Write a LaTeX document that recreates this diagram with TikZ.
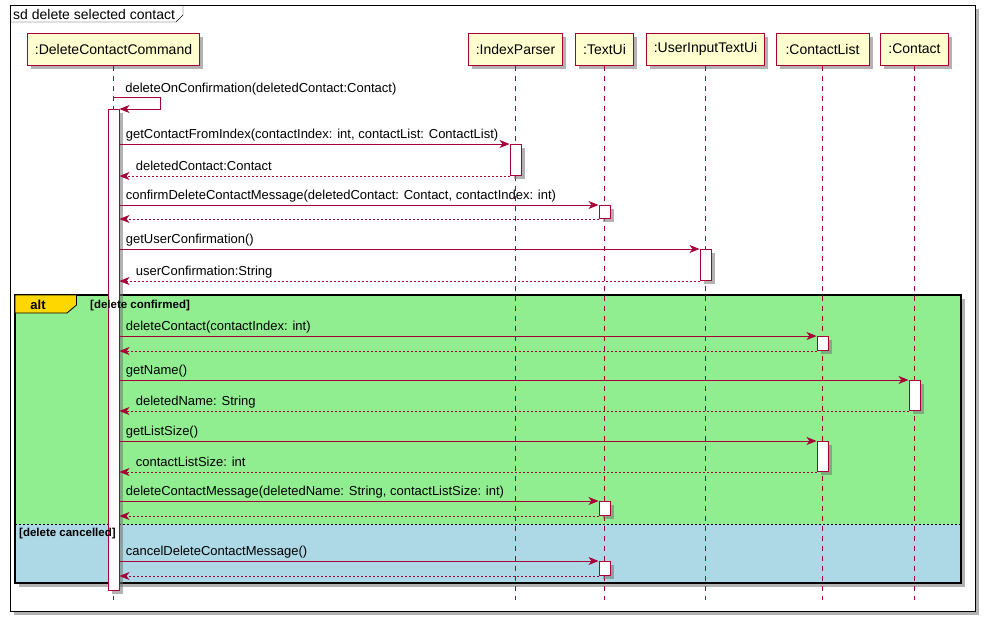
\documentclass[tikz,border=0pt]{standalone}
\usepackage{fontspec}
\setmainfont{Liberation Sans}
\usetikzlibrary{arrows.meta, positioning, calc, shadows}

\definecolor{umlred}{HTML}{A80036}
\definecolor{umlyellow}{HTML}{FEFECE}
\definecolor{altgreen}{HTML}{90EE90}
\definecolor{altblue}{HTML}{ADD8E6}
\definecolor{tabgold}{HTML}{FFD700}

\tikzset{
    shd/.style={drop shadow={shadow xshift=3.5pt, shadow yshift=-3.5pt, fill=black!55, opacity=0.55}},
    participant/.style={draw=umlred, fill=umlyellow, line width=1pt, minimum height=32pt, inner sep=0pt, font=\fontsize{14}{16}\selectfont, shd},
    lifeline/.style={umlred, line width=0.8pt, dash pattern=on 5pt off 5pt},
    act/.style={draw=umlred, fill=white, line width=1pt, minimum width=11pt, inner sep=0pt, anchor=north, shd},
    msg/.style={umlred, line width=0.8pt, -{Stealth[length=10pt, width=8pt, inset=3pt]}},
    ret/.style={msg, dash pattern=on 2pt off 2pt},
    lbl/.style={text=black, font=\fontsize{13}{15}\selectfont, inner sep=0pt, anchor=base west},
    guard/.style={font=\fontsize{11.5}{13}\selectfont\bfseries, inner sep=0pt, anchor=base west},
}

\begin{document}
\begin{tikzpicture}[x=1pt, y=-1pt]
    \useasboundingbox (0,0) rectangle (985,622);

    % outer frame
    \draw[fill=white, shd] (10,5) rectangle (975,611);
    \draw (10,22) -- (176,22) -- (183,15) -- (183,5);
    \node[anchor=base west, inner sep=0pt, font=\fontsize{14}{16}\selectfont] (title) at (13,19) {sd delete selected contact};

    % participants
    \node[participant, minimum width=172pt] (dcc) at (113.5,49) {:DeleteContactCommand};
    \node[participant, minimum width=94pt] (ip) at (515.5,49) {:IndexParser};
    \node[participant, minimum width=58pt] (tui) at (604.5,49) {:TextUi};
    \node[participant, minimum width=118pt] (uitu) at (705.5,49) {:UserInputTextUi};
    \node[participant, minimum width=93pt] (cl) at (822.5,49) {:ContactList};
    \node[participant, minimum width=68pt] (con) at (914.5,49) {:Contact};
    \coordinate (bottom) at (0,600);

    % alt block
    \fill[altgreen, shd] (15,295) rectangle (961,583);
    \fill[altblue] (15,524) rectangle (961,583);
    \draw[dash pattern=on 2pt off 2pt] (15,524) -- (961,524);
    \draw[line width=1.5pt] (15,295) rectangle (961,583);
    \draw[fill=tabgold, line width=0.8pt] (15,295) -- (76.5,295) -- (76.5,305) -- (67,313) -- (15,313) -- cycle;
    \node[anchor=base, inner sep=0pt, font=\fontsize{13}{15}\selectfont\bfseries] (alt) at (38,309) {alt};

    % lifelines
    \draw[lifeline] (dcc.south) -- (dcc.south |- bottom);
    \draw[lifeline] (ip.south) -- (ip.south |- bottom);
    \draw[lifeline] (tui.south) -- (tui.south |- bottom);
    \draw[lifeline] (uitu.south) -- (uitu.south |- bottom);
    \draw[lifeline] (cl.south) -- (cl.south |- bottom);
    \draw[lifeline] (con.south) -- (con.south |- bottom);

    % activations
    \node[act, minimum height=481pt] (dccA) at (113.5,109) {};
    \node[act, minimum height=31pt] (ipA) at (515.5,144) {};
    \node[act, minimum height=13pt] (tuiA) at (604.5,205) {};
    \node[act, minimum height=31pt] (uituA) at (705.5,249) {};
    \node[act, minimum height=14pt] (clA) at (822.5,336) {};
    \node[act, minimum height=30pt] (conA) at (914.5,380) {};
    \node[act, minimum height=30pt] (clB) at (822.5,441) {};
    \node[act, minimum height=14pt] (tuiB) at (604.5,501) {};
    \node[act, minimum height=14pt] (tuiC) at (604.5,561) {};

    % messages
    \draw[msg] ([yshift=12pt]dccA.north) -- node[lbl, at start, xshift=11.5pt, yshift=5pt]{deleteOnConfirmation(deletedContact:Contact)} ++(47,0) |- (dccA.north east);

    \draw[msg] (dccA.east |- ipA.north) -- node[lbl, at start, xshift=6pt, yshift=5.5pt]{getContactFromIndex(contactIndex: int, contactList: ContactList)} (ipA.north west);
    \draw[ret] (ipA.south west) -- node[lbl, at end, xshift=16pt, yshift=5.5pt]{deletedContact:Contact} (dccA.east |- ipA.south);

    \draw[msg] (dccA.east |- tuiA.north) -- node[lbl, at start, xshift=6pt, yshift=5.5pt]{confirmDeleteContactMessage(deletedContact: Contact, contactIndex: int)} (tuiA.north west);
    \draw[ret] (tuiA.south west) -- (dccA.east |- tuiA.south);

    \draw[msg] (dccA.east |- uituA.north) -- node[lbl, at start, xshift=6pt, yshift=5.5pt]{getUserConfirmation()} (uituA.north west);
    \draw[ret] (uituA.south west) -- node[lbl, at end, xshift=16pt, yshift=5.5pt]{userConfirmation:String} (dccA.east |- uituA.south);

    \draw[msg] (dccA.east |- clA.north) -- node[lbl, at start, xshift=6pt, yshift=5.5pt]{deleteContact(contactIndex: int)} (clA.north west);
    \draw[ret] (clA.south west) -- (dccA.east |- clA.south);

    \draw[msg] (dccA.east |- conA.north) -- node[lbl, at start, xshift=6pt, yshift=5.5pt]{getName()} (conA.north west);
    \draw[ret] (conA.south west) -- node[lbl, at end, xshift=16pt, yshift=5.5pt]{deletedName: String} (dccA.east |- conA.south);

    \draw[msg] (dccA.east |- clB.north) -- node[lbl, at start, xshift=6pt, yshift=5.5pt]{getListSize()} (clB.north west);
    \draw[ret] (clB.south west) -- node[lbl, at end, xshift=16pt, yshift=5.5pt]{contactListSize: int} (dccA.east |- clB.south);

    \draw[msg] (dccA.east |- tuiB.north) -- node[lbl, at start, xshift=6pt, yshift=5.5pt]{deleteContactMessage(deletedName: String, contactListSize: int)} (tuiB.north west);
    \draw[ret] (tuiB.south west) -- (dccA.east |- tuiB.south);

    \draw[msg] (dccA.east |- tuiC.north) -- node[lbl, at start, xshift=6pt, yshift=5.5pt]{cancelDeleteContactMessage()} (tuiC.north west);
    \draw[ret] (tuiC.south west) -- (dccA.east |- tuiC.south);

    % guards
    \node[guard] (confirmed) at (90,308) {[delete confirmed]};
    \node[guard] (cancelled) at (19,536) {[delete cancelled]};
\end{tikzpicture}
\end{document}
